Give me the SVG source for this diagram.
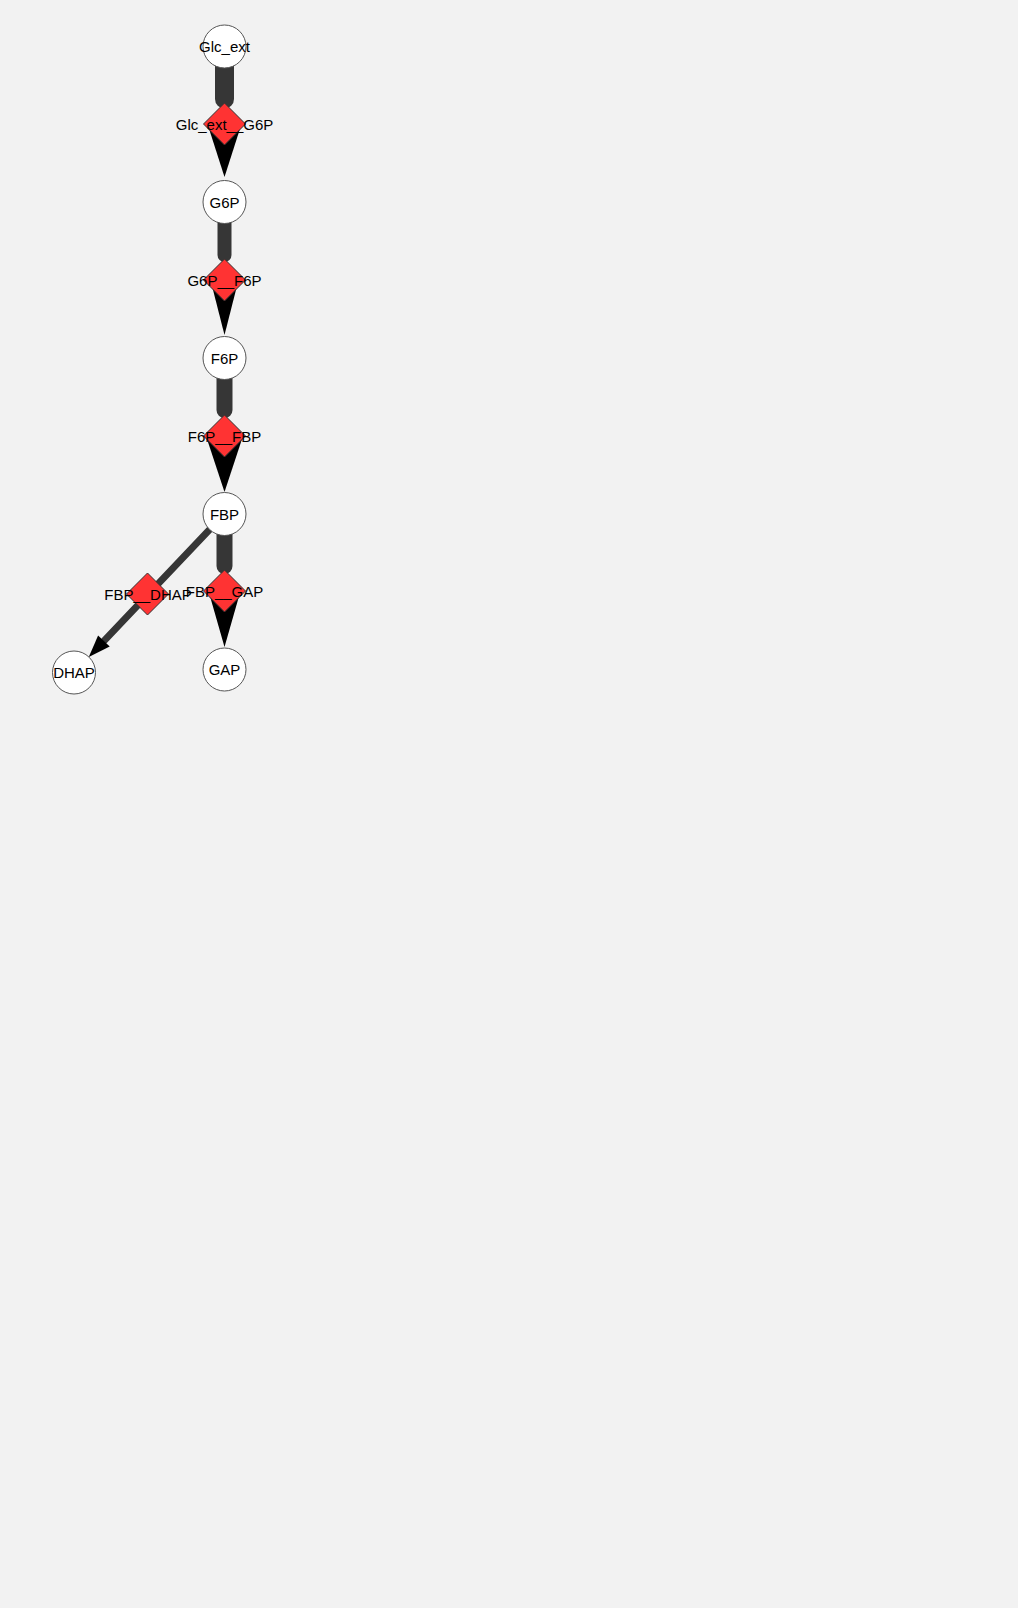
<svg xmlns="http://www.w3.org/2000/svg" width="1018" height="1608" viewBox="0 0 1018 1608">
<style>
.bg{fill:#f2f2f2}
.met{fill:#ffffff;stroke:#555555;stroke-width:1}
.rxn{fill:#ff3333;stroke:#333333;stroke-width:1}
.lbl{font-family:"Liberation Sans",Arial,sans-serif;font-size:15px;fill:#000000;text-anchor:middle}
.edge{stroke:#363636;stroke-linecap:round;fill:none}
.arr{fill:#000000;stroke:none}
</style>
<rect class="bg" x="0" y="0" width="1018" height="1608"/>
<g id="connectors">
<line class="edge" x1="224.5" y1="58" x2="224.5" y2="99" stroke-width="19"/>
<polygon class="arr" points="207.5,124 241.5,124 224.5,177"/>
<line class="edge" x1="224.5" y1="214" x2="224.5" y2="255" stroke-width="14"/>
<polygon class="arr" points="210.5,280 238.5,280 224.5,335"/>
<line class="edge" x1="224.5" y1="370" x2="224.5" y2="410" stroke-width="16"/>
<polygon class="arr" points="206,436 243,436 224.5,492"/>
<line class="edge" x1="224.5" y1="525" x2="224.5" y2="566" stroke-width="16"/>
<polygon class="arr" points="208.5,591 240.5,591 224.5,647"/>
<line class="edge" x1="210" y1="529.2" x2="104.5" y2="640.3" stroke-width="7" stroke-linecap="butt"/>
<polygon class="arr" points="109.7,646.4 98.1,635.4 88.8,656.9"/>
</g>
<g id="Glc_ext"><circle class="met" cx="224.5" cy="46.5" r="21.5"/><text class="lbl" x="224.5" y="52">Glc_ext</text></g>
<g id="G6P"><circle class="met" cx="224.5" cy="202" r="21.5"/><text class="lbl" x="224.5" y="207.5">G6P</text></g>
<g id="F6P"><circle class="met" cx="224.5" cy="358" r="21.5"/><text class="lbl" x="224.5" y="363.5">F6P</text></g>
<g id="FBP"><circle class="met" cx="224.5" cy="514" r="21.5"/><text class="lbl" x="224.5" y="519.5">FBP</text></g>
<g id="GAP"><circle class="met" cx="224.5" cy="669.5" r="21.5"/><text class="lbl" x="224.5" y="675">GAP</text></g>
<g id="DHAP"><circle class="met" cx="74" cy="672.5" r="21.5"/><text class="lbl" x="74" y="678">DHAP</text></g>
<g id="Glc_ext__G6P"><polygon class="rxn" points="224.5,103 245.5,124 224.5,145 203.5,124"/><text class="lbl" x="224.5" y="130">Glc_ext__G6P</text></g>
<g id="G6P__F6P"><polygon class="rxn" points="224.5,259 245.5,280 224.5,301 203.5,280"/><text class="lbl" x="224.5" y="285.5">G6P__F6P</text></g>
<g id="F6P__FBP"><polygon class="rxn" points="224.5,415 245.5,436 224.5,457 203.5,436"/><text class="lbl" x="224.5" y="441.5">F6P__FBP</text></g>
<g id="FBP__GAP"><polygon class="rxn" points="224.5,570 245.5,591 224.5,612 203.5,591"/><text class="lbl" x="224.5" y="596.5">FBP__GAP</text></g>
<g id="FBP__DHAP"><polygon class="rxn" points="147.5,573 168.5,594 147.5,615 126.5,594"/><text class="lbl" x="148" y="600">FBP__DHAP</text></g>
</svg>
